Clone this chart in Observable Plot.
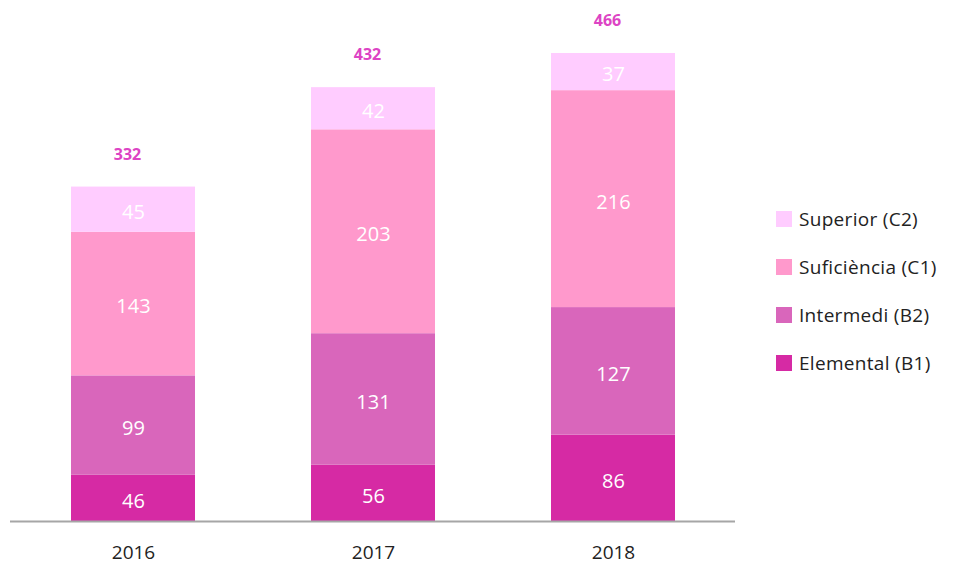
<!DOCTYPE html>
<html>
<head>
<meta charset="utf-8">
<script src="https://cdn.jsdelivr.net/npm/d3@7"></script>
<script src="https://cdn.jsdelivr.net/npm/@observablehq/plot@0.6"></script>
<style>
  html, body { margin: 0; padding: 0; background: #fff; }
  #wrap { position: relative; width: 965px; height: 567px; font-family: "Open Sans", sans-serif; }
  #legend { position: absolute; left: 776px; top: 195px; }
  .item { display: flex; align-items: center; height: 48px; font-size: 19px; color: #222; letter-spacing: 0.3px; }
  .sw { width: 16px; height: 16px; margin-right: 7px; }
</style>
</head>
<body>
<div id="wrap"><div id="chart"></div><div id="legend"></div></div>
<script>
const years = ["2016", "2017", "2018"];
const levels = ["Elemental (B1)", "Intermedi (B2)", "Suficiència (C1)", "Superior (C2)"];
const colors = ["#d62aa4", "#d966bb", "#ff99cc", "#ffccff"];
const elemental = [46, 56, 86];
const intermedi = [99, 131, 127];
const suficiencia = [143, 203, 216];
const superior = [45, 42, 37];
const totals = [332, 432, 466];

const series = [elemental, intermedi, suficiencia, superior];
const data = [];
levels.forEach((lv, i) => years.forEach((y, j) => data.push({year: y, level: lv, value: series[i][j]})));
const totalData = years.map((y, j) => ({year: y, total: totals[j]}));

const chart = Plot.plot({
  width: 965,
  height: 567,
  marginLeft: 10,
  marginRight: 230,
  marginTop: 53,
  marginBottom: 46,
  style: {fontFamily: "Open Sans, sans-serif", background: "#fff"},
  x: {domain: years, paddingInner: 0.485, paddingOuter: 0.25, label: null, tickSize: 0, tickPadding: 24, tickFormat: d => d},
  y: {domain: [0, 466], axis: null},
  color: {domain: levels, range: colors},
  marks: [
    Plot.barY(data, {x: "year", y: "value", fill: "level", order: levels}),
    Plot.text(data, Plot.stackY({x: "year", y: "value", z: "level", order: levels, text: d => String(d.value), fill: "#fff", fontSize: 20, letterSpacing: 1, dy: 3})),
    Plot.text(totalData, {x: "year", y: "total", text: d => String(d.total), dy: -33, dx: -6, fill: "#dd44c4", fontWeight: "bold", fontSize: 16}),
    Plot.ruleY([0], {stroke: "#a6a6a6", strokeWidth: 2})
  ]
});
chart.querySelectorAll('[aria-label="x-axis tick label"] text').forEach(t => { t.setAttribute("font-size", "19"); t.setAttribute("fill", "#222"); });
document.getElementById("chart").appendChild(chart);

const legend = document.getElementById("legend");
for (let i = levels.length - 1; i >= 0; i--) {
  const it = document.createElement("div");
  it.className = "item";
  it.innerHTML = `<span class="sw" style="background:${colors[i]}"></span><span>${levels[i]}</span>`;
  legend.appendChild(it);
}
</script>
</body>
</html>
